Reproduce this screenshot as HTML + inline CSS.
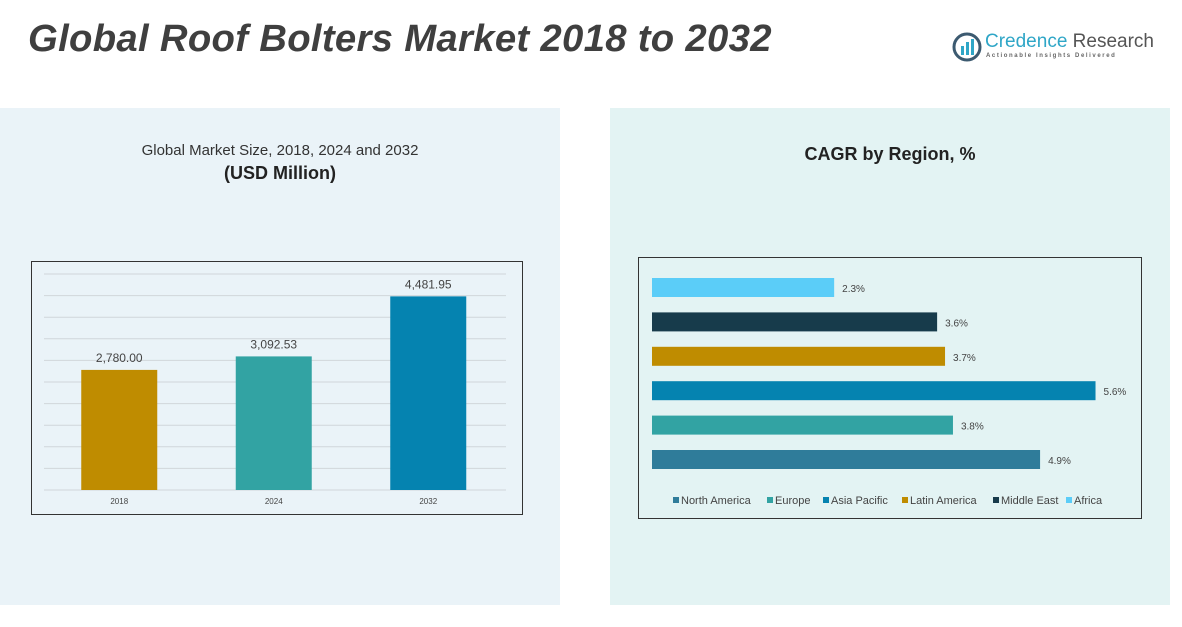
<!DOCTYPE html>
<html><head><meta charset="utf-8"><style>
body{margin:0;width:1182px;height:627px;background:#fff;position:relative;overflow:hidden;font-family:"Liberation Sans",sans-serif}
.abs{position:absolute}
</style></head><body>
<div class="abs" style="left:28px;top:17px;font-size:38.3px;font-weight:bold;font-style:italic;color:#3f3f3f;letter-spacing:0.3px;white-space:nowrap">Global Roof Bolters Market 2018 to 2032</div>
<div class="abs" style="left:952px;top:30px;width:200px;height:36px">
<svg width="30" height="30" style="position:absolute;left:0;top:2px"><circle cx="15" cy="15" r="13" fill="none" stroke="#3c5a70" stroke-width="3"/><rect x="9" y="14" width="3" height="9" fill="#2fa6c7"/><rect x="14" y="10" width="3" height="13" fill="#2fa6c7"/><rect x="19" y="7" width="3" height="16" fill="#2fa6c7"/></svg>
<div class="abs" style="left:33px;top:1px;font-size:19px;color:#2fa6c7;white-space:nowrap">Credence <span style="color:#555">Research</span></div>
<div class="abs" style="left:34px;top:23px;font-size:6px;color:#666;letter-spacing:1.6px;white-space:nowrap;font-weight:bold">Actionable Insights Delivered</div>
</div>
<div class="abs" style="left:0;top:108px;width:560px;height:497px;background:#eaf3f8"></div>
<div class="abs" style="left:610px;top:108px;width:560px;height:497px;background:#e3f3f3"></div>
<div class="abs" style="left:0;width:560px;top:142px;text-align:center;font-size:15px;color:#333">Global Market Size, 2018, 2024 and 2032</div>
<div class="abs" style="left:0;width:560px;top:163px;text-align:center;font-size:18px;font-weight:bold;color:#222">(USD Million)</div>
<div class="abs" style="left:610px;width:560px;top:144px;text-align:center;font-size:18px;font-weight:bold;color:#222">CAGR by Region, %</div>
<svg class="abs" style="left:0;top:0" width="1182" height="627" id="svg"></svg>
<script>
const years=["2018","2024","2032"];
const sizes=[2780.00,3092.53,4481.95];
const sizeLabels=["2,780.00","3,092.53","4,481.95"];
const barColors=["#bf8c00","#32a3a3","#0583b0"];
const regions=["North America","Europe","Asia Pacific","Latin America","Middle East","Africa"];
const cagr=[4.9,3.8,5.6,3.7,3.6,2.3];
const regionColors=["#2f7c9a","#32a3a3","#0583b0","#bf8c00","#173b4b","#5bcdf8"];
const NS="http://www.w3.org/2000/svg",svg=document.getElementById('svg');
function mk(t,a,txt){const e=document.createElementNS(NS,t);for(const k in a)e.setAttribute(k,a[k]);if(txt!==undefined)e.textContent=txt;svg.appendChild(e);return e;}
let e=mk('rect',{x:31.5,y:261.5,width:491,height:253,fill:'none',stroke:'#333','stroke-width':1});


const y0=490,yMax=5000,ph=216;
const ys=v=>y0-v/yMax*ph;
for(let v=0;v<=yMax;v+=500){e=mk('line',{x1:44,x2:506,y1:ys(v),y2:ys(v),stroke:'#d0d6da','stroke-width':1});

}
const cw=154.5,x0=42;
years.forEach((y,i)=>{const cx=x0+cw*(i+0.5);
e=mk('rect',{x:cx-38,y:ys(sizes[i]),width:76,height:y0-ys(sizes[i]),fill:barColors[i]});


e=mk('text',{x:cx,y:ys(sizes[i])-8,'text-anchor':'middle','font-size':12,fill:'#444'},sizeLabels[i]);


e=mk('text',{x:cx,y:504,'text-anchor':'middle','font-size':8,fill:'#444'},y);

});
e=mk('rect',{x:638.5,y:257.5,width:503,height:261,fill:'none',stroke:'#333','stroke-width':1});


const xs=v=>652+v*79.2;
regions.forEach((r,i)=>{const top=450-i*34.4;
e=mk('rect',{x:652,y:top,width:xs(cagr[i])-652,height:19,fill:regionColors[i]});


e=mk('text',{x:xs(cagr[i])+8,y:top+14,'font-size':10,fill:'#444'},cagr[i].toFixed(1)+'%');

});
const lx=[673,767,823,902,993,1066];
regions.forEach((r,i)=>{e=mk('rect',{x:lx[i],y:497,width:6,height:6,fill:regionColors[i]});


e=mk('text',{x:lx[i]+8,y:504,'font-size':11,fill:'#444'},r);

});
</script>
</body></html>
